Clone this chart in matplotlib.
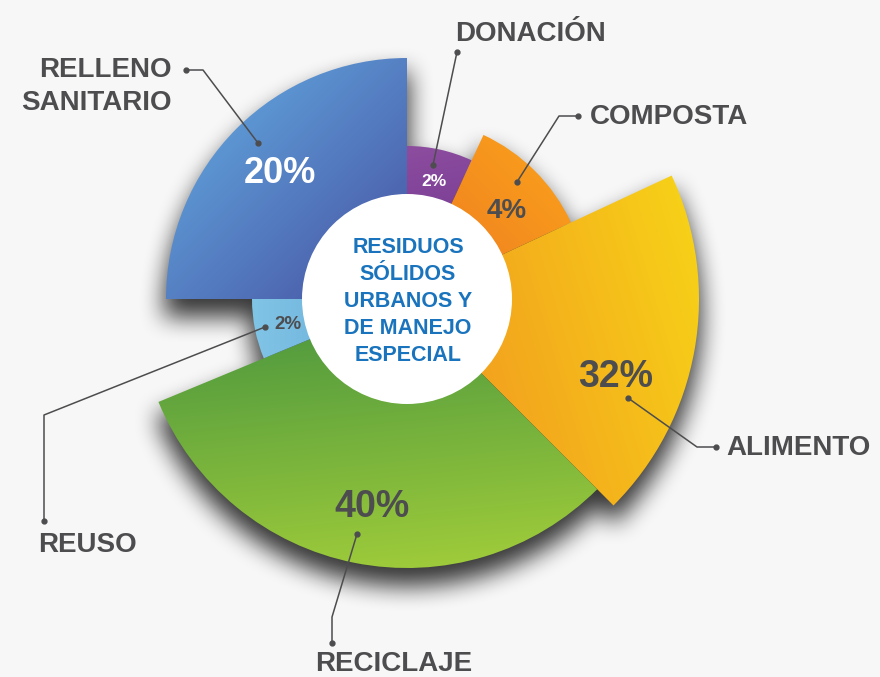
import numpy as np
import matplotlib
matplotlib.use('Agg')
import matplotlib.pyplot as plt
from matplotlib.patches import Wedge, Circle

# datos
categorias = ['DONACIÓN', 'COMPOSTA', 'ALIMENTO', 'RECICLAJE', 'REUSO', 'RELLENO\nSANITARIO']
porcentajes = [2, 4, 32, 40, 2, 20]
apertura = [25, 40, 70, 112.5, 22.5, 90]        # grados que ocupa cada sector
radio = [153, 181, 292, 269, 155, 241]          # radio exterior de cada sector (px)
titulo = ['RESIDUOS', 'SÓLIDOS', 'URBANOS Y', 'DE MANEJO', 'ESPECIAL']

# estilo
colores = [('#8d4d9f', '#6a338d'), ('#f89a1c', '#ec7622'), ('#f29a1f', '#f7d018'),
           ('#4c973f', '#9ecb3a'), ('#80c4e6', '#65a8d6'), ('#5c95d2', '#4650a0')]
direccion = [(0.2, 1), (-1, 1), (1, -0.3), (0.1, 1), (1, 0), (1, 1)]
pct_pos = [(434, 186), (507, 218), (616, 387), (372, 517), (288, 329), (280, 183)]
pct_size = [12.5, 20, 27, 27, 13.5, 26]
pct_color = ['white', '#4d4d4f', '#4d4d4f', '#4d4d4f', '#4d4d4f', 'white']
lab_pos = [(455, 41, 'left'), (590, 124, 'left'), (726, 455, 'left'),
           (315, 671, 'left'), (38, 552, 'left'), (172, 77, 'right')]
guias = [[(457, 52), (433, 165)],
         [(578, 116), (559, 116), (517, 182)],
         [(716, 447), (697, 447), (628, 398)],
         [(332, 643), (332, 617), (357, 534)],
         [(44, 521), (44, 415), (265, 327)],
         [(186, 70), (203, 70), (258, 143)]]

W, H = 880, 677
cx, cy = 407, 299
r_in = 105
gris = '#4d4d4f'
azul = '#1a74bd'

plt.rcParams['font.family'] = ['Liberation Sans', 'DejaVu Sans']

fig = plt.figure(figsize=(W / 100, H / 100), dpi=100)
fig.patch.set_facecolor('#f7f7f7')
ax = fig.add_axes([0, 0, 1, 1])
ax.set_xlim(0, W)
ax.set_ylim(H, 0)
ax.axis('off')

yy, xx = np.mgrid[0:H, 0:W] + 0.5
dx, dy = xx - cx, yy - cy
rr = np.hypot(dx, dy)
phi = np.degrees(np.arctan2(dx, -dy)) % 360
bordes = np.cumsum(apertura)
idx = np.clip(np.searchsorted(bordes, phi, side='right'), 0, len(radio) - 1)
R = np.array(radio)[idx]
forma = (rr <= R).astype(float)


def blur1d(a, r, axis):
    pad = [(0, 0), (0, 0)]
    pad[axis] = (r + 1, r)
    c = np.cumsum(np.pad(a, pad, mode='edge'), axis=axis)
    n = 2 * r + 1
    if axis == 0:
        return (c[n:] - c[:-n]) / n
    return (c[:, n:] - c[:, :-n]) / n


# sombra difusa bajo el grafico
sombra = np.zeros_like(forma)
sombra[16:, :] = forma[:-16, :]
for _ in range(3):
    sombra = blur1d(sombra, 10, 0)
    sombra = blur1d(sombra, 10, 1)
img_s = np.zeros((H, W, 4))
img_s[..., 3] = np.clip(sombra, 0, 1) ** 0.8 * 0.78
ax.imshow(img_s, extent=(0, W, H, 0), origin='upper', zorder=1, interpolation='bilinear')

# sectores con degradado
ini = 0
for i in range(len(categorias)):
    t1, t2 = ini - 90, ini + apertura[i] - 90
    ini += apertura[i]
    w = Wedge((cx, cy), radio[i], t1, t2, width=radio[i] - r_in + 5,
              facecolor='none', edgecolor='none')
    ax.add_patch(w)
    vx, vy = direccion[i]
    proj = xx * vx + yy * vy
    m = (idx == i) & (rr <= R)
    lo, hi = proj[m].min(), proj[m].max()
    t = np.clip((proj - lo) / (hi - lo), 0, 1)[..., None]
    c0 = np.array(matplotlib.colors.to_rgb(colores[i][0]))
    c1 = np.array(matplotlib.colors.to_rgb(colores[i][1]))
    img = c0 * (1 - t) + c1 * t
    im = ax.imshow(img, extent=(0, W, H, 0), origin='upper', zorder=2)
    im.set_clip_path(w)

ax.add_patch(Circle((cx, cy), r_in, facecolor='white', edgecolor='none', zorder=3))

for k, linea in enumerate(titulo):
    ax.text(cx + 1, 253 + 27 * k, linea, ha='center', va='baseline', color=azul,
            fontsize=15.5, fontweight='bold', zorder=5)

# porcentajes
for i, p in enumerate(porcentajes):
    x, y = pct_pos[i]
    ax.text(x, y, f'{p}%', ha='center', va='baseline', color=pct_color[i],
            fontsize=pct_size[i], fontweight='bold', zorder=5)

# etiquetas y lineas guia
for i, cat in enumerate(categorias):
    x, y, ha = lab_pos[i]
    for k, linea in enumerate(cat.split('\n')):
        ax.text(x, y + 33 * k, linea, ha=ha, va='baseline', color=gris,
                fontsize=20, fontweight='bold', zorder=5)
    pts = np.array(guias[i])
    ax.plot(pts[:, 0], pts[:, 1], color=gris, lw=1.1, zorder=4)
    ax.plot(pts[[0, -1], 0], pts[[0, -1], 1], 'o', color=gris, ms=3.5, zorder=4)

fig.savefig('out.png', dpi=100, facecolor=fig.get_facecolor())
